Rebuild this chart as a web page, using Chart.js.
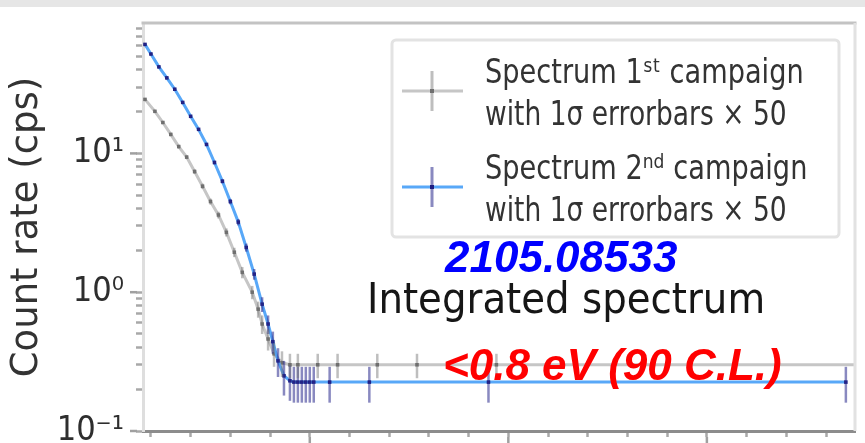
<!DOCTYPE html>
<html>
<head>
<meta charset="utf-8">
<title>Integrated spectrum</title>
<script src="https://cdn.jsdelivr.net/npm/chart.js@4/dist/chart.umd.min.js"></script>
<style>
  html, body { margin: 0; padding: 0; background: #fff; }
  canvas { display: block; }
</style>
</head>
<body>
<canvas id="myChart" width="865" height="443"></canvas>
<script>
// retarding energy relative to endpoint (eV) and count rate (cps)
const firstX    = [-41.5, -39, -37, -35, -33, -31, -29, -27, -25, -23, -21, -19, -17, -14.5, -13, -12, -10.5, -9, -7, -5, -3, 2, 7, 17, 27, 47, 140];
const firstRate = [24.5, 20.1, 16.7, 13.7, 11.2, 9.4, 7.4, 5.8, 4.5, 3.6, 2.7, 1.94, 1.39, 1.0, 0.755, 0.59, 0.46, 0.36, 0.31, 0.30, 0.30, 0.30, 0.30, 0.30, 0.30, 0.30, 0.30];
const firstErr  = [0.5, 0.45, 0.4, 0.38, 0.35, 0.3, 0.28, 0.25, 0.22, 0.2, 0.18, 0.15, 0.13, 0.11, 0.1, 0.09, 0.08, 0.07, 0.065, 0.06, 0.06, 0.06, 0.06, 0.06, 0.06, 0.06, 0.06];

const secondX    = [-41.5, -40, -38, -36, -34, -32, -30, -28, -26, -24, -22, -20, -18, -16, -14, -12, -10.5, -9.3, -8, -6.5, -5, -4, -3, -2, -1, 0, 1, 5, 15, 45, 135];
const secondRate = [61, 52, 42, 35, 29, 23.3, 18.5, 14.9, 11.6, 8.6, 6.3, 4.5, 3.2, 2.1, 1.35, 0.82, 0.59, 0.44, 0.32, 0.25, 0.23, 0.225, 0.225, 0.225, 0.225, 0.225, 0.225, 0.225, 0.225, 0.225, 0.225];
const secondErr  = [0.8, 0.7, 0.6, 0.55, 0.5, 0.45, 0.4, 0.35, 0.3, 0.27, 0.23, 0.2, 0.17, 0.14, 0.12, 0.1, 0.09, 0.08, 0.075, 0.07, 0.065, 0.065, 0.065, 0.065, 0.065, 0.065, 0.065, 0.065, 0.065, 0.065, 0.065];

const yDecades    = [0.1, 1, 10];
const yTickLabels = ['10⁻¹', '10⁰', '10¹'];
const yTitle      = 'Count rate (cps)';

const legendNames = ['Spectrum 1ˢᵗ campaign', 'Spectrum 2ⁿᵈ campaign'];
const legendNote  = 'with 1σ errorbars × 50';

const paperId   = '2105.08533';
const plotTitle = 'Integrated spectrum';
const limitText = '<0.8 eV (90 C.L.)';

function decadeIndex(v) {
    return yDecades.findIndex(d => Math.abs(d - v) < 1e-9);
}

function line(c, x1, y1, x2, y2) {
    c.beginPath();
    c.moveTo(x1, y1);
    c.lineTo(x2, y2);
    c.stroke();
}

// text squeezed sideways, the source picture is stretched vertically
function squeezed(c, text, x, y, sx) {
    c.save();
    c.translate(x, y);
    c.scale(sx, 1);
    c.fillText(text, 0, 0);
    c.restore();
}

const decorations = {
    id: 'decorations',
    beforeDraw(chart) {
        const c = chart.ctx;
        c.save();
        c.fillStyle = '#e6e6e6';
        c.fillRect(0, 0, chart.width, 7);
        c.restore();
    },
    afterDatasetsDraw(chart) {
        // errorbars
        const c = chart.ctx, a = chart.chartArea, xs = chart.scales.x, ys = chart.scales.y;
        c.save();
        c.beginPath();
        c.rect(a.left, a.top, a.right - a.left, a.bottom - a.top);
        c.clip();
        c.lineWidth = 2.5;
        chart.data.datasets.forEach(ds => {
            c.strokeStyle = ds.errColor;
            ds.data.forEach((p, i) => {
                const px = xs.getPixelForValue(p.x);
                line(c, px, ys.getPixelForValue(p.y - ds.err[i]), px, ys.getPixelForValue(p.y + ds.err[i]));
            });
        });
        c.restore();
    },
    afterDraw(chart) {
        const c = chart.ctx, a = chart.chartArea, xs = chart.scales.x, ys = chart.scales.y;
        c.save();

        // top and right frame
        c.lineWidth = 3;
        c.strokeStyle = '#c3c3c3';
        line(c, a.left - 1.5, a.top, a.right + 1.5, a.top);
        c.strokeStyle = '#e2e2e2';
        line(c, a.right, a.top, a.right, a.bottom);

        // longer marks on decades and every 50 eV
        c.strokeStyle = '#a0a0a0';
        c.lineWidth = 2.5;
        ys.ticks.forEach(t => {
            if (decadeIndex(t.value) >= 0) {
                const py = ys.getPixelForValue(t.value);
                line(c, a.left - 13, py, a.left - 6, py);
            }
        });
        xs.ticks.forEach(t => {
            if (t.value % 50 === 0) {
                const px = xs.getPixelForValue(t.value);
                line(c, px, a.bottom + 6, px, a.bottom + 12);
            }
        });

        // legend box
        c.fillStyle = 'rgba(255,255,255,0.85)';
        c.strokeStyle = '#e3e3e3';
        c.lineWidth = 3;
        c.beginPath();
        c.roundRect(392, 40, 447, 197, 4);
        c.fill();
        c.stroke();

        [chart.data.datasets[1], chart.data.datasets[0]].forEach((ds, k) => {
            const hy = 91 + k * 96;
            c.lineWidth = 3;
            c.strokeStyle = ds.borderColor;
            line(c, 402, hy, 463, hy);
            c.strokeStyle = ds.errColor;
            line(c, 432, hy - 20, 432, hy + 20);
            c.fillStyle = ds.pointBackgroundColor;
            c.fillRect(430, hy - 2, 4, 4);

            c.fillStyle = '#333333';
            c.font = '34px "DejaVu Sans", sans-serif';
            c.textBaseline = 'alphabetic';
            squeezed(c, legendNames[k], 485, hy - 8, 0.8);
            squeezed(c, legendNote, 485, hy + 34, 0.78);
        });

        // annotations
        c.textBaseline = 'alphabetic';
        c.fillStyle = '#0000ff';
        c.font = 'italic bold 44px "Liberation Sans", Arial, sans-serif';
        c.fillText(paperId, 445, 272);

        c.fillStyle = '#161616';
        c.font = '43px "DejaVu Sans", sans-serif';
        squeezed(c, plotTitle, 367, 313, 0.9);

        c.fillStyle = '#ff0000';
        c.font = 'italic bold 44px "Liberation Sans", Arial, sans-serif';
        c.fillText(limitText, 443, 380);

        c.restore();
    }
};

var ctx = document.getElementById('myChart').getContext('2d');
var chart = new Chart(ctx, {
    type: 'line',
    data: {
        datasets: [{
            label: legendNames[1],
            data: secondX.map((x, i) => ({ x: x, y: secondRate[i] })),
            err: secondErr,
            errColor: 'rgba(40,40,140,0.55)',
            borderColor: '#58a8f8',
            borderWidth: 3,
            pointStyle: 'rect',
            pointRadius: 2.5,
            pointBackgroundColor: '#1e1e80',
            pointBorderWidth: 0,
            tension: 0
        }, {
            label: legendNames[0],
            data: firstX.map((x, i) => ({ x: x, y: firstRate[i] })),
            err: firstErr,
            errColor: 'rgba(110,110,110,0.45)',
            borderColor: '#c6c6c6',
            borderWidth: 3,
            pointStyle: 'rect',
            pointRadius: 2.5,
            pointBackgroundColor: '#707070',
            pointBorderWidth: 0,
            tension: 0
        }]
    },
    options: {
        responsive: false,
        animation: false,
        devicePixelRatio: 1,
        layout: { padding: { top: 23, right: 10, bottom: 0, left: 0 } },
        plugins: {
            legend: { display: false },
            tooltip: { enabled: false }
        },
        scales: {
            x: {
                type: 'linear',
                min: -42,
                max: 137.3,
                bounds: 'data',
                afterBuildTicks: function(scale) {
                    var list = [];
                    for (var v = -40; v <= 130; v += 10) list.push({ value: v });
                    scale.ticks = list;
                },
                afterFit: function(scale) {
                    scale.height = 12;
                    scale.paddingLeft = 0;
                    scale.paddingRight = 0;
                },
                ticks: { display: false, autoSkip: false },
                grid: { drawOnChartArea: false, drawTicks: true, tickLength: 6, tickWidth: 2.5, tickColor: '#a8a8a8' },
                border: { display: true, color: '#8c8c8c', width: 3 }
            },
            y: {
                type: 'logarithmic',
                min: 0.1,
                max: 87,
                bounds: 'data',
                afterBuildTicks: function(scale) {
                    var list = [];
                    yDecades.forEach(d => {
                        for (var k = 1; k < 10; k++) {
                            var v = +(d * k).toPrecision(3);
                            if (v <= scale.max) list.push({ value: v });
                        }
                    });
                    scale.ticks = list;
                },
                afterFit: function(scale) {
                    scale.width = 143;
                    scale.paddingTop = 0;
                    scale.paddingBottom = 0;
                },
                ticks: {
                    autoSkip: false,
                    padding: 12,
                    color: '#2e2e2e',
                    font: { family: '"DejaVu Sans Condensed", "DejaVu Sans", sans-serif', size: 34 },
                    callback: function(value) {
                        var i = decadeIndex(value);
                        return i < 0 ? '' : yTickLabels[i];
                    }
                },
                title: {
                    display: true,
                    text: yTitle,
                    color: '#333333',
                    padding: { top: 5, bottom: 0 },
                    font: { family: '"DejaVu Sans", sans-serif', size: 37 }
                },
                grid: { drawOnChartArea: false, drawTicks: true, tickLength: 7, tickWidth: 2.5, tickColor: '#a8a8a8' },
                border: { display: true, color: '#dedede', width: 3 }
            }
        }
    },
    plugins: [decorations]
});
</script>
</body>
</html>
